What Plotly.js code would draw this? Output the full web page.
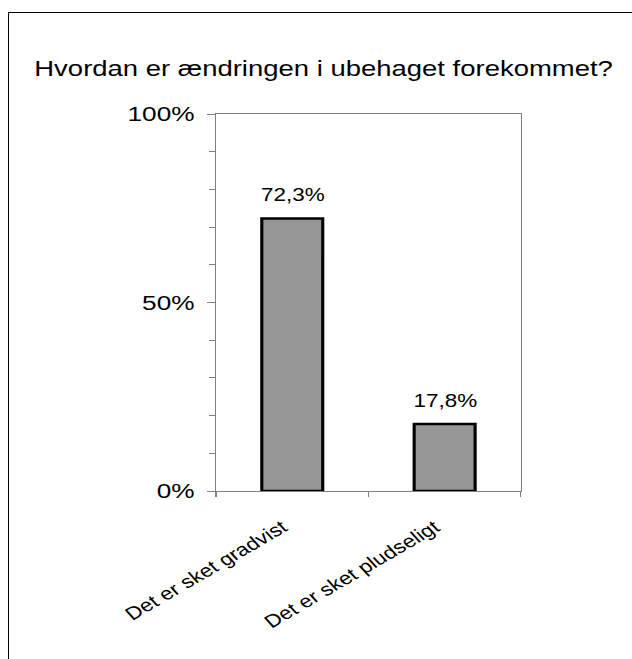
<!DOCTYPE html>
<html><head><meta charset="utf-8">
<script src="https://cdn.plot.ly/plotly-3.0.1.min.js"></script>
<style>
html,body{margin:0;padding:0;width:632px;height:659px;overflow:hidden;background:#fff;}
#chart{position:absolute;left:0;top:0;width:506px;height:659px;transform:scaleX(1.249);transform-origin:0 0;}
#frame{position:absolute;left:8px;top:12px;width:800px;height:800px;border:1px solid #000;box-sizing:border-box;pointer-events:none;}
</style></head><body>
<div id="chart"></div>
<div id="frame"></div>
<script>
const titleText = 'Hvordan er ændringen i ubehaget forekommet?';
const categories = ['Det er sket gradvist', 'Det er sket pludseligt'];
const values = [72.3, 17.8];
const yTickVals = [0, 50, 100];
const yTickText = ['0%', '50%', '100%'];

function fmt(v){ return v.toFixed(1).replace('.', ',') + '%'; }

const FONT = 'Liberation Sans, Arial, sans-serif';

const trace = {
  type: 'bar',
  x: categories,
  y: values,
  marker: {color: '#969696', line: {color: '#000000', width: 2.5}},
  hoverinfo: 'skip'
};

const layout = {
  width: 506, height: 659,
  margin: {l: 173, r: 89, t: 114, b: 168, pad: 0},
  paper_bgcolor: 'rgba(0,0,0,0)',
  plot_bgcolor: '#ffffff',
  font: {family: FONT, color: '#000000'},
  showlegend: false,
  bargap: 0.6,
  title: {
    text: titleText,
    font: {family: FONT, size: 22, color: '#000000'},
    xref: 'container', yref: 'container',
    x: 0.512, xanchor: 'center',
    y: 0.8965, yanchor: 'middle'
  },
  xaxis: {
    type: 'category',
    tickson: 'boundaries',
    ticks: 'outside', ticklen: 5, tickcolor: '#808080', tickwidth: 1,
    tickangle: -36,
    ticklabelstandoff: 18,
    ticklabelshift: -8,
    tickfont: {family: FONT, size: 18, color: '#000000'},
    showline: true, linecolor: '#808080', linewidth: 1, mirror: true,
    showgrid: false, zeroline: false, fixedrange: true
  },
  yaxis: {
    range: [0, 100],
    tickmode: 'array', tickvals: yTickVals, ticktext: yTickText,
    ticks: 'outside', ticklen: 6, tickcolor: '#808080', tickwidth: 1,
    ticklabelstandoff: 6,
    minor: {tickmode: 'linear', tick0: 0, dtick: 10, ticks: 'outside', ticklen: 5, tickcolor: '#808080', showgrid: false},
    tickfont: {family: FONT, size: 21, color: '#000000'},
    showline: true, linecolor: '#808080', linewidth: 1, mirror: true,
    showgrid: false, zeroline: false, fixedrange: true
  },
  annotations: categories.map((c, i) => ({
    x: c, y: values[i], xref: 'x', yref: 'y',
    text: fmt(values[i]), showarrow: false,
    xanchor: 'center', yanchor: 'bottom', yshift: 11,
    font: {family: FONT, size: 18, color: '#000000'}
  }))
};

Plotly.newPlot('chart', [trace], layout, {staticPlot: true, displayModeBar: false});
</script>
</body></html>
